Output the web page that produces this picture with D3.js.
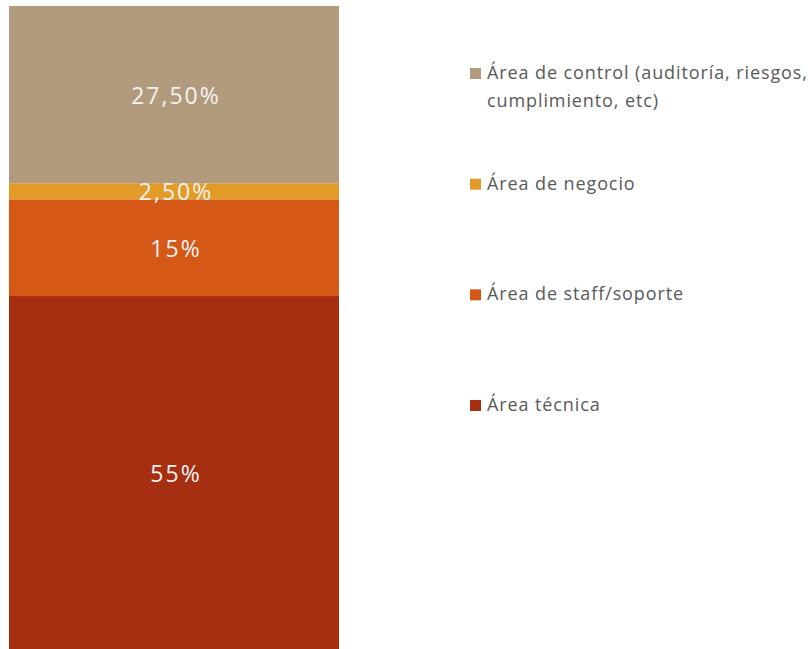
<!DOCTYPE html>
<html>
<head>
<meta charset="utf-8">
<script src="https://cdn.jsdelivr.net/npm/d3@7"></script>
<style>
  body { margin: 0; background: #fff; }
  svg { display: block; }
</style>
</head>
<body>
<svg id="chart" width="812" height="649"></svg>
<script>
/* DATA */
const categories = ["Área técnica", "Área de staff/soporte", "Área de negocio", "Área de control (auditoría, riesgos, cumplimiento, etc)"];
const values = [55, 15, 2.5, 27.5];
const valueLabels = ["55%", "15%", "2,50%", "27,50%"];
const colors = ["#A52F10", "#D55816", "#E39B27", "#B29B7C"];
// legend lines (wrapped like the original)
const legendLines = [
  ["Área técnica"],
  ["Área de staff/soporte"],
  ["Área de negocio"],
  ["Área de control (auditoría, riesgos,", "cumplimiento, etc)"]
];

const svg = d3.select("#chart");
const font = "'Open Sans', sans-serif";

const y = d3.scaleLinear().domain([0, 100]).range([650.5, 6]);
const x = d3.scaleBand().domain(["total"]).range([9, 339]).padding(0);

// stack the single bar
let acc = 0;
const segs = values.map((v, i) => {
  const s = { cat: categories[i], y0: acc, y1: acc + v, label: valueLabels[i], color: colors[i] };
  acc += v;
  return s;
});

const bars = svg.append("g");
bars.selectAll("rect")
  .data(segs)
  .join("rect")
  .attr("x", x("total"))
  .attr("width", x.bandwidth())
  .attr("y", d => y(d.y1))
  .attr("height", d => y(d.y0) - y(d.y1))
  .attr("fill", d => d.color);

bars.selectAll("text")
  .data(segs)
  .join("text")
  .attr("x", x("total") + x.bandwidth() / 2 + 2)
  .attr("y", d => (y(d.y0) + y(d.y1)) / 2 + 3)
  .attr("text-anchor", "middle")
  .attr("dominant-baseline", "middle")
  .attr("font-family", font)
  .attr("font-size", 23)
  .attr("letter-spacing", 2)
  .attr("fill", "#F2F2F2")
  .text(d => d.label);

/* LEGEND (top to bottom = reverse stack order) */
const legendRows = [3, 2, 1, 0];
const legendY = d3.scalePoint().domain(legendRows).range([73, 405]);

const legend = svg.append("g");
const item = legend.selectAll("g")
  .data(legendRows)
  .join("g")
  .attr("transform", i => `translate(470, ${legendY(i)})`);

item.append("rect")
  .attr("x", 0)
  .attr("y", -5)
  .attr("width", 11)
  .attr("height", 11)
  .attr("fill", i => colors[i]);

item.append("text")
  .attr("font-family", font)
  .attr("font-size", 18)
  .attr("letter-spacing", 0.9)
  .attr("fill", "#595959")
  .selectAll("tspan")
  .data(i => legendLines[i])
  .join("tspan")
  .attr("x", 17)
  .attr("y", (d, k) => 6 + k * 28)
  .text(d => d);
</script>
</body>
</html>
